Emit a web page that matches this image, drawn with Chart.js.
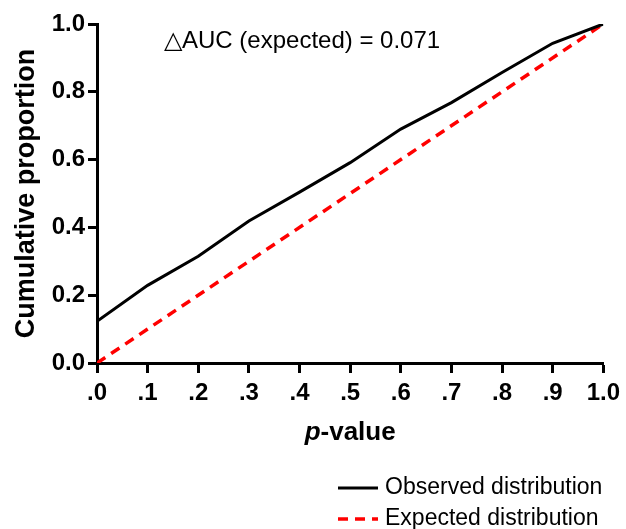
<!DOCTYPE html>
<html>
<head>
<meta charset="utf-8">
<script src="https://cdn.jsdelivr.net/npm/chart.js@4.4.1/dist/chart.umd.min.js"></script>
<style>
  html, body { margin: 0; padding: 0; background: #fff; }
  #wrap { width: 626px; height: 529px; }
</style>
</head>
<body>
<div id="wrap"><canvas id="cdf-chart"></canvas></div>
<script>
// values
const pValues = [0, 0.1, 0.2, 0.3, 0.4, 0.5, 0.6, 0.7, 0.8, 0.9, 1.0];
const observedProp = [0.123, 0.229, 0.315, 0.419, 0.504, 0.591, 0.690, 0.768, 0.857, 0.943, 1.0];
const expectedP = [0, 1];
const expectedProp = [0, 1];
const xTickLabels = ['.0', '.1', '.2', '.3', '.4', '.5', '.6', '.7', '.8', '.9', '1.0'];
const yTickLabels = ['0.0', '0.2', '0.4', '0.6', '0.8', '1.0'];
const seriesNames = ['Observed distribution', 'Expected distribution'];
const annotation = '\u25B3AUC (expected) = 0.071';

const FONT = "'Liberation Sans', Arial, Helvetica, sans-serif";

// annotation, italic axis title and the two-row legend
const extras = {
  id: 'extras',
  afterDraw(chart) {
    const ctx = chart.ctx;
    const area = chart.chartArea;
    ctx.save();
    ctx.fillStyle = '#000';

    // delta AUC note
    ctx.font = '24px ' + FONT;
    ctx.textAlign = 'left';
    ctx.textBaseline = 'alphabetic';
    ctx.fillText(annotation, area.left + 67, area.top + 24);

    // x title: italic p + bold "-value"
    const cx = (area.left + area.right) / 2;
    const ty = area.bottom + 77;
    ctx.font = 'italic bold 26px ' + FONT;
    const w1 = ctx.measureText('p').width;
    ctx.font = 'bold 26px ' + FONT;
    const w2 = ctx.measureText('-value').width;
    const sx = cx - (w1 + w2) / 2;
    ctx.font = 'italic bold 26px ' + FONT;
    ctx.fillText('p', sx, ty);
    ctx.font = 'bold 26px ' + FONT;
    ctx.fillText('-value', sx + w1, ty);

    // legend
    const lx = 338, lw = 40;
    chart.data.datasets.forEach((ds, i) => {
      const y = 488 + i * 31;
      ctx.beginPath();
      ctx.strokeStyle = ds.borderColor;
      ctx.lineWidth = ds.borderWidth;
      ctx.setLineDash(ds.borderDash || []);
      ctx.moveTo(lx, y);
      ctx.lineTo(lx + lw, y);
      ctx.stroke();
      ctx.setLineDash([]);
      ctx.font = '23px ' + FONT;
      ctx.textBaseline = 'middle';
      ctx.fillText(ds.label, lx + lw + 7, y);
    });
    ctx.restore();
  }
};

const ctx = document.getElementById('cdf-chart').getContext('2d');
const cdfChart = new Chart(ctx, {
  type: 'line',
  data: {
    datasets: [{
      label: seriesNames[0],
      data: pValues.map((p, i) => ({ x: p, y: observedProp[i] })),
      borderColor: '#000000',
      borderWidth: 3,
      pointRadius: 0,
      tension: 0,
      fill: false
    }, {
      label: seriesNames[1],
      data: expectedP.map((p, i) => ({ x: p, y: expectedProp[i] })),
      borderColor: '#ff0000',
      borderWidth: 3.5,
      borderDash: [10, 7],
      pointRadius: 0,
      tension: 0,
      fill: false
    }]
  },
  options: {
    responsive: true,
    maintainAspectRatio: false,
    animation: false,
    layout: {
      padding: { left: 0, right: 20, top: 24, bottom: 66 }
    },
    plugins: {
      legend: { display: false },
      tooltip: { enabled: false }
    },
    scales: {
      x: {
        type: 'linear',
        min: 0,
        max: 1,
        afterFit: (scale) => { scale.height = 100; },
        afterBuildTicks: (scale) => {
          scale.ticks = xTickLabels.map((t, i) => ({ value: i / 10 }));
        },
        ticks: {
          autoSkip: false,
          maxRotation: 0,
          padding: 6,
          color: '#000',
          font: { family: FONT, size: 24, weight: 'bold' },
          callback: (v, i) => xTickLabels[i]
        },
        grid: { drawOnChartArea: false, drawTicks: true, tickLength: 10, tickWidth: 3, color: '#000' },
        border: { display: true, width: 3, color: '#000' }
      },
      y: {
        min: 0,
        max: 1,
        afterFit: (scale) => { scale.width = 97; },
        afterBuildTicks: (scale) => {
          scale.ticks = yTickLabels.map((t, i) => ({ value: i * 0.2 }));
        },
        ticks: {
          padding: 3,
          color: '#000',
          font: { family: FONT, size: 24, weight: 'bold' },
          callback: (v, i) => yTickLabels[i]
        },
        title: {
          display: true,
          text: 'Cumulative proportion',
          color: '#000',
          padding: { top: 10, bottom: 0 },
          font: { family: FONT, size: 27, weight: 'bold' }
        },
        grid: { drawOnChartArea: false, drawTicks: true, tickLength: 9, tickWidth: 3, color: '#000' },
        border: { display: true, width: 3, color: '#000' }
      }
    }
  },
  plugins: [extras]
});
</script>
</body>
</html>
